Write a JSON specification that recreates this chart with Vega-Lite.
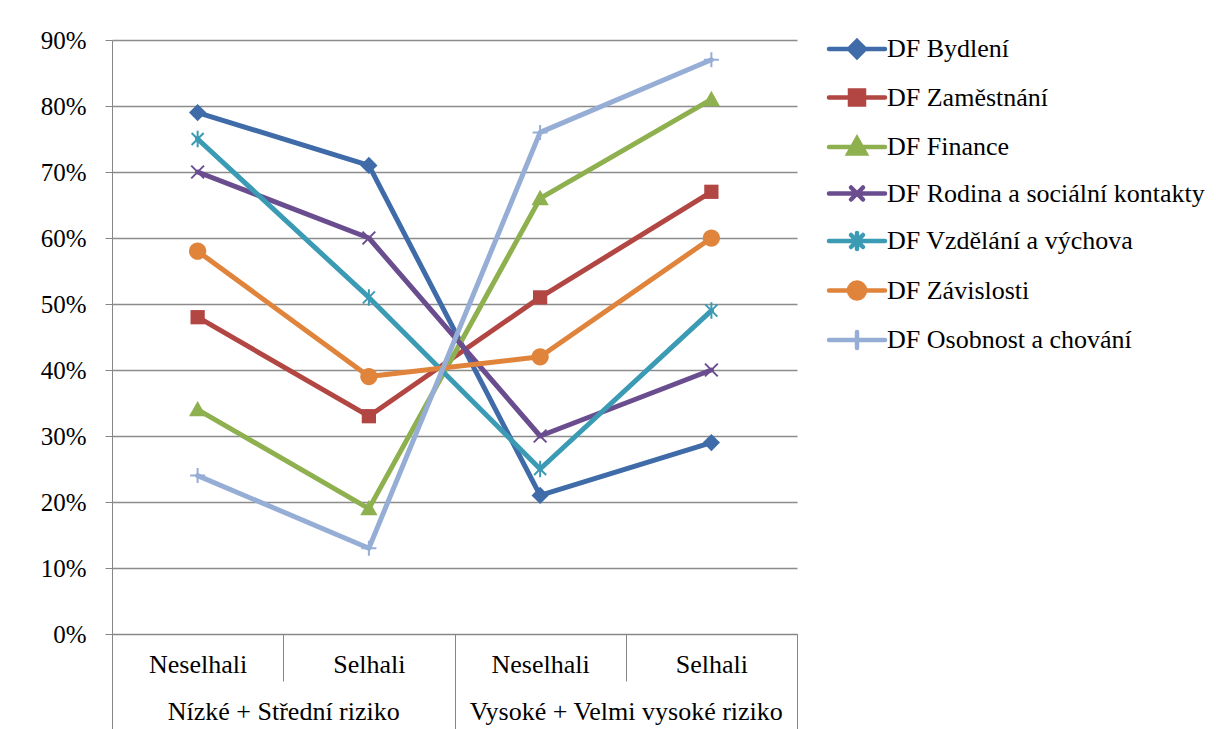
{
  "$schema": "https://vega.github.io/schema/vega-lite/v6.json",
  "width": 685,
  "height": 594,
  "autosize": {"type": "none"},
  "padding": {"left": 112, "top": 40, "right": 419, "bottom": 95},
  "background": "white",
  "config": {
    "view": {"stroke": null},
    "font": "Liberation Serif, Times New Roman, serif",
    "axis": {"labelFont": "Liberation Serif, Times New Roman, serif", "labelFontSize": 26, "labelColor": "#000000", "labelLimit": 500, "domainColor": "#868686", "tickColor": "#868686", "gridColor": "#8C8C8C", "gridWidth": 1.5}
  },
  "datasets": {
    "df": [
      {"skupina": "Nízké + Střední riziko", "kat": "Nízké + Střední riziko|Neselhali", "serie": "DF Bydlení", "hodnota": 79},
      {"skupina": "Nízké + Střední riziko", "kat": "Nízké + Střední riziko|Selhali", "serie": "DF Bydlení", "hodnota": 71},
      {"skupina": "Vysoké + Velmi vysoké riziko", "kat": "Vysoké + Velmi vysoké riziko|Neselhali", "serie": "DF Bydlení", "hodnota": 21},
      {"skupina": "Vysoké + Velmi vysoké riziko", "kat": "Vysoké + Velmi vysoké riziko|Selhali", "serie": "DF Bydlení", "hodnota": 29},
      {"skupina": "Nízké + Střední riziko", "kat": "Nízké + Střední riziko|Neselhali", "serie": "DF Zaměstnání", "hodnota": 48},
      {"skupina": "Nízké + Střední riziko", "kat": "Nízké + Střední riziko|Selhali", "serie": "DF Zaměstnání", "hodnota": 33},
      {"skupina": "Vysoké + Velmi vysoké riziko", "kat": "Vysoké + Velmi vysoké riziko|Neselhali", "serie": "DF Zaměstnání", "hodnota": 51},
      {"skupina": "Vysoké + Velmi vysoké riziko", "kat": "Vysoké + Velmi vysoké riziko|Selhali", "serie": "DF Zaměstnání", "hodnota": 67},
      {"skupina": "Nízké + Střední riziko", "kat": "Nízké + Střední riziko|Neselhali", "serie": "DF Finance", "hodnota": 34},
      {"skupina": "Nízké + Střední riziko", "kat": "Nízké + Střední riziko|Selhali", "serie": "DF Finance", "hodnota": 19},
      {"skupina": "Vysoké + Velmi vysoké riziko", "kat": "Vysoké + Velmi vysoké riziko|Neselhali", "serie": "DF Finance", "hodnota": 66},
      {"skupina": "Vysoké + Velmi vysoké riziko", "kat": "Vysoké + Velmi vysoké riziko|Selhali", "serie": "DF Finance", "hodnota": 81},
      {"skupina": "Nízké + Střední riziko", "kat": "Nízké + Střední riziko|Neselhali", "serie": "DF Rodina a sociální kontakty", "hodnota": 70},
      {"skupina": "Nízké + Střední riziko", "kat": "Nízké + Střední riziko|Selhali", "serie": "DF Rodina a sociální kontakty", "hodnota": 60},
      {"skupina": "Vysoké + Velmi vysoké riziko", "kat": "Vysoké + Velmi vysoké riziko|Neselhali", "serie": "DF Rodina a sociální kontakty", "hodnota": 30},
      {"skupina": "Vysoké + Velmi vysoké riziko", "kat": "Vysoké + Velmi vysoké riziko|Selhali", "serie": "DF Rodina a sociální kontakty", "hodnota": 40},
      {"skupina": "Nízké + Střední riziko", "kat": "Nízké + Střední riziko|Neselhali", "serie": "DF Vzdělání a výchova", "hodnota": 75},
      {"skupina": "Nízké + Střední riziko", "kat": "Nízké + Střední riziko|Selhali", "serie": "DF Vzdělání a výchova", "hodnota": 51},
      {"skupina": "Vysoké + Velmi vysoké riziko", "kat": "Vysoké + Velmi vysoké riziko|Neselhali", "serie": "DF Vzdělání a výchova", "hodnota": 25},
      {"skupina": "Vysoké + Velmi vysoké riziko", "kat": "Vysoké + Velmi vysoké riziko|Selhali", "serie": "DF Vzdělání a výchova", "hodnota": 49},
      {"skupina": "Nízké + Střední riziko", "kat": "Nízké + Střední riziko|Neselhali", "serie": "DF Závislosti", "hodnota": 58},
      {"skupina": "Nízké + Střední riziko", "kat": "Nízké + Střední riziko|Selhali", "serie": "DF Závislosti", "hodnota": 39},
      {"skupina": "Vysoké + Velmi vysoké riziko", "kat": "Vysoké + Velmi vysoké riziko|Neselhali", "serie": "DF Závislosti", "hodnota": 42},
      {"skupina": "Vysoké + Velmi vysoké riziko", "kat": "Vysoké + Velmi vysoké riziko|Selhali", "serie": "DF Závislosti", "hodnota": 60},
      {"skupina": "Nízké + Střední riziko", "kat": "Nízké + Střední riziko|Neselhali", "serie": "DF Osobnost a chování", "hodnota": 24},
      {"skupina": "Nízké + Střední riziko", "kat": "Nízké + Střední riziko|Selhali", "serie": "DF Osobnost a chování", "hodnota": 13},
      {"skupina": "Vysoké + Velmi vysoké riziko", "kat": "Vysoké + Velmi vysoké riziko|Neselhali", "serie": "DF Osobnost a chování", "hodnota": 76},
      {"skupina": "Vysoké + Velmi vysoké riziko", "kat": "Vysoké + Velmi vysoké riziko|Selhali", "serie": "DF Osobnost a chování", "hodnota": 87}
    ]
  },
  "data": {"name": "df"},
  "layer": [
    {
      "encoding": {
        "x": {
          "field": "kat", "type": "nominal", "sort": null,
          "scale": {"type": "band", "paddingInner": 0, "paddingOuter": 0},
          "axis": {"title": null, "orient": "bottom", "labelExpr": "split(datum.label, '|')[1]", "labelAngle": 0, "tickSize": 47, "tickBand": "extent", "labelPadding": -17, "labelBaseline": "middle", "grid": false, "domain": true, "tickWidth": 1}
        },
        "y": {
          "field": "hodnota", "type": "quantitative",
          "scale": {"domain": [0, 90], "nice": false},
          "axis": {"title": null, "values": [0, 10, 20, 30, 40, 50, 60, 70, 80, 90], "labelExpr": "datum.value + '%'", "labelFontSize": 25, "tickSize": 7, "labelPadding": 19, "grid": true, "domain": true}
        },
        "color": {
          "field": "serie", "type": "nominal",
          "scale": {
            "domain": ["DF Bydlení", "DF Zaměstnání", "DF Finance", "DF Rodina a sociální kontakty", "DF Vzdělání a výchova", "DF Závislosti", "DF Osobnost a chování"],
            "range": ["#3F6CA8", "#B24643", "#8FB04E", "#6A4D8E", "#3B9BB4", "#E0843C", "#96AED6"]
          },
          "legend": null
        }
      },
      "layer": [
        {
          "mark": {"type": "line", "strokeWidth": 5, "strokeCap": "round", "strokeJoin": "round"},
          "encoding": {
            "color": {
              "field": "serie", "type": "nominal",
              "legend": {
                "title": null, "orient": "none", "legendX": 732, "legendY": -4,
                "labelFont": "Liberation Serif, Times New Roman, serif", "labelFontSize": 26, "labelColor": "#000000", "labelLimit": 500,
                "symbolSize": 400, "labelOffset": 17, "rowPadding": 15.5,
                "symbolType": "M-2.8,0L2.8,0",
                "encode": {
                  "symbols": {
                    "update": {
                      "shape": {"signal": "['M-2.8,0L2.8,0M0,-0.8L0.8,0L0,0.8L-0.8,0Z','M-2.8,0L2.8,0M-0.7,-0.7L0.7,-0.7L0.7,0.7L-0.7,0.7Z','M-2.8,0L2.8,0M0,-0.85L0.85,0.65L-0.85,0.65Z','M-2.8,0L2.8,0M-0.6,-0.6L0.6,0.6M-0.6,0.6L0.6,-0.6','M-2.8,0L2.8,0M-0.6,-0.6L0.6,0.6M-0.6,0.6L0.6,-0.6M0,-0.8L0,0.8','M-2.8,0L2.8,0M0.8,0A0.8,0.8,0,1,1,-0.8,0A0.8,0.8,0,1,1,0.8,0Z','M-2.8,0L2.8,0M0,-0.8L0,0.8'][indexof(['DF Bydlení','DF Zaměstnání','DF Finance','DF Rodina a sociální kontakty','DF Vzdělání a výchova','DF Závislosti','DF Osobnost a chování'], datum.value)]"},
                      "fill": {"scale": "color", "field": "value"},
                      "stroke": {"scale": "color", "field": "value"},
                      "strokeWidth": {"value": 4.5},
                      "strokeCap": {"value": "round"},
                      "opacity": {"value": 1},
                      "fillOpacity": {"value": 1},
                      "strokeOpacity": {"value": 1}
                    }
                  }
                }
              }
            }
          }
        },
        {
          "transform": [{"filter": "datum.serie === 'DF Bydlení'"}],
          "mark": {"type": "point", "filled": true, "opacity": 1, "size": 225, "shape": "M0,-1.15L1.15,0L0,1.15L-1.15,0Z"}
        },
        {
          "transform": [{"filter": "datum.serie === 'DF Zaměstnání'"}],
          "mark": {"type": "point", "filled": true, "opacity": 1, "size": 225, "shape": "M-0.95,-0.95L0.95,-0.95L0.95,0.95L-0.95,0.95Z"}
        },
        {
          "transform": [{"filter": "datum.serie === 'DF Finance'"}],
          "mark": {"type": "point", "filled": true, "opacity": 1, "size": 225, "shape": "M0,-1.15L1.15,0.9L-1.15,0.9Z"}
        },
        {
          "transform": [{"filter": "datum.serie === 'DF Rodina a sociální kontakty'"}],
          "mark": {"type": "point", "filled": false, "opacity": 1, "size": 225, "strokeWidth": 2, "shape": "M-0.85,-0.85L0.85,0.85M-0.85,0.85L0.85,-0.85"}
        },
        {
          "transform": [{"filter": "datum.serie === 'DF Vzdělání a výchova'"}],
          "mark": {"type": "point", "filled": false, "opacity": 1, "size": 225, "strokeWidth": 2, "shape": "M-0.8,-0.8L0.8,0.8M-0.8,0.8L0.8,-0.8M0,-1.1L0,1.1"}
        },
        {
          "transform": [{"filter": "datum.serie === 'DF Závislosti'"}],
          "mark": {"type": "point", "filled": true, "opacity": 1, "size": 225, "shape": "M1.15,0A1.15,1.15,0,1,1,-1.15,0A1.15,1.15,0,1,1,1.15,0Z"}
        },
        {
          "transform": [{"filter": "datum.serie === 'DF Osobnost a chování'"}],
          "mark": {"type": "point", "filled": false, "opacity": 1, "size": 225, "strokeWidth": 2, "shape": "M0,-1L0,1M-1,0L1,0"}
        }
      ]
    },
    {
      "mark": {"type": "tick", "opacity": 0},
      "encoding": {
        "x": {
          "field": "skupina", "type": "nominal", "sort": null,
          "scale": {"type": "band", "paddingInner": 0, "paddingOuter": 0},
          "axis": {"title": null, "orient": "bottom", "labelAngle": 0, "tickSize": 95, "tickBand": "extent", "labelPadding": -18, "labelBaseline": "middle", "labelLimit": 500, "domain": false, "grid": false, "tickWidth": 1}
        },
        "y": {"field": "hodnota", "type": "quantitative"}
      }
    }
  ],
  "resolve": {"scale": {"x": "independent"}, "axis": {"x": "independent"}}
}
